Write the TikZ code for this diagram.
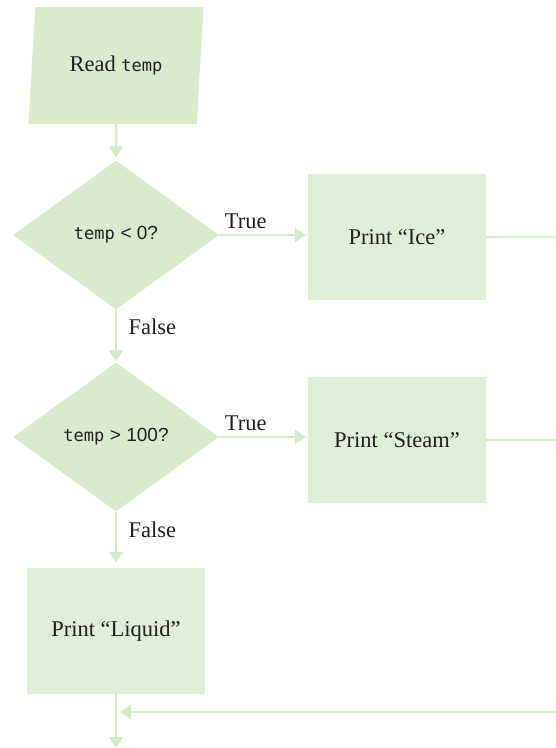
\documentclass[tikz,border=0pt]{standalone}
\usepackage{fontspec}
\setmainfont{Liberation Serif}
\setsansfont{Liberation Sans}
\setmonofont{DejaVu Sans Mono}
\usetikzlibrary{shapes.geometric,arrows.meta}
\definecolor{flowfill}{RGB}{217,235,204}
\definecolor{boxfill}{RGB}{225,238,215}
\definecolor{flowline}{RGB}{214,233,203}
\definecolor{ink}{RGB}{35,31,32}
\newcommand{\code}[1]{{\fontsize{17}{20}\selectfont\ttfamily #1}}
\newcommand{\op}[1]{{\fontsize{19}{22}\selectfont\sffamily #1}}
\begin{document}
\begin{tikzpicture}[x=1pt, y=1pt, line join=round, >={Triangle[width=14pt,length=11pt]}]
	\tikzset{every node/.style={text=ink, font=\fontsize{22.5}{26}\selectfont},
		inbox/.style={trapezium, trapezium left angle=78.4, trapezium right angle=101.6, trapezium stretches,
			minimum width=176pt, minimum height=117pt, inner sep=0pt, fill=flowfill},
		decision/.style={diamond, minimum width=206pt, minimum height=149pt, inner sep=0pt, fill=flowfill},
		proc/.style={rectangle, minimum width=178pt, minimum height=126pt, inner sep=0pt, fill=boxfill},
		flow/.style={draw=flowline, line width=2.5pt}}
	\useasboundingbox (0,0) rectangle (556,-748);
	\node[inbox] (read) at (116,-65.5) {Read \code{temp}};
	\node[decision] (cold) at (116,-235) {\code{temp} \op{< 0?}};
	\node[proc] (ice) at (397,-237) {Print “Ice”};
	\node[decision] (hot) at (116,-437) {\code{temp} \op{> 100?}};
	\node[proc] (steam) at (397,-440) {Print “Steam”};
	\node[proc] (liquid) at (116,-631) {Print “Liquid”};
	\coordinate (iceout) at (556,-237);
	\coordinate (steamout) at (556,-440);
	\coordinate (back) at (556,-712);
	\coordinate (exit) at (116,-748);
	\draw[flow,->,shorten >=3pt] (read) -- (cold);
	\draw[flow,->,shorten >=2pt] (cold.east) -- node[pos=0.3, above=2pt]{True} (cold.east -| ice.west);
	\draw[flow] (ice.east) -- (iceout);
	\draw[flow,->,shorten >=1pt] (cold.south) -- node[pos=0.33, right=8pt]{False} (hot.north);
	\draw[flow,->,shorten >=2pt] (hot.east) -- node[pos=0.3, above=2pt]{True} (hot.east -| steam.west);
	\draw[flow] (steam.east) -- (steamout);
	\draw[flow,->,shorten >=5pt] (hot.south) -- node[pos=0.33, right=8pt]{False} (liquid.north);
	\draw[flow,->] (liquid) -- (exit);
	\draw[flow,->,shorten >=4pt] (back) -- (back -| liquid.south);
\end{tikzpicture}
\end{document}
